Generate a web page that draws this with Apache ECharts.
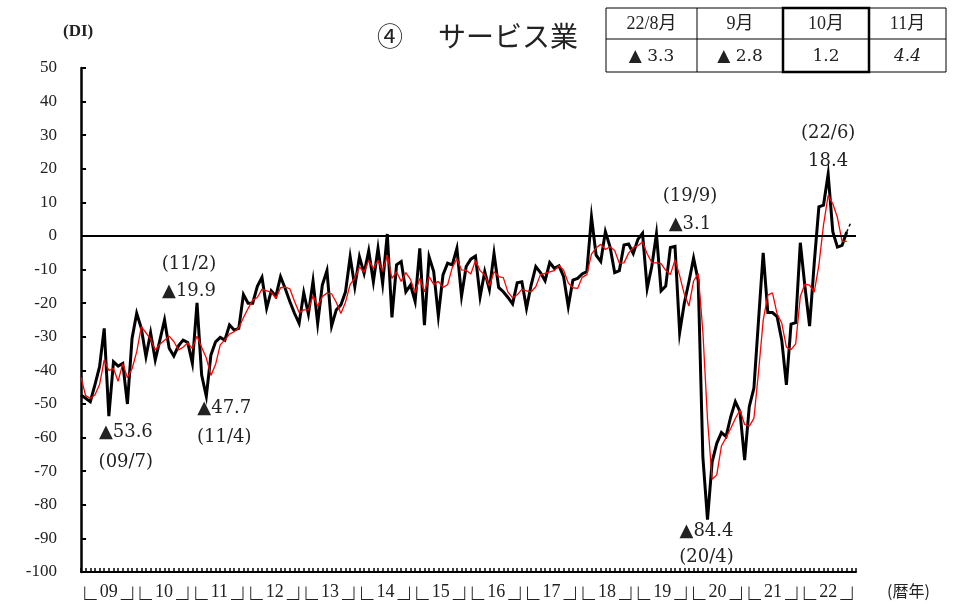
<!DOCTYPE html>
<html>
<head>
<meta charset="utf-8">
<script src="https://cdn.jsdelivr.net/npm/echarts@6/dist/echarts.min.js"></script>
<style>
  html, body { margin: 0; padding: 0; background: #fff; }
  #chart { width: 955px; height: 604px; }
</style>
</head>
<body>
<div id="chart"></div>
<script>
// Calendar years shown on the x axis (two-digit form)
const yearLabels = ['09','10','11','12','13','14','15','16','17','18','19','20','21','22'];

// Service-sector DI, monthly from 2009/1 to 2022/10
const serviceDI = [
  -47.3, -48.3, -49.3, -44.3, -38.9, -27.5, -53.6, -37.4, -38.7, -37.9, -50.0, -30.5,
  -23.0, -27.5, -35.9, -28.8, -36.9, -31.0, -25.0, -33.4, -35.7, -32.7, -31.0, -31.7,
  -37.9, -19.9, -41.4, -47.7, -35.4, -31.5, -30.2, -31.0, -26.5, -28.0, -27.5, -17.4,
  -20.0, -20.0, -15.0, -12.3, -21.5, -16.3, -17.9, -12.1, -15.6, -19.5, -23.0, -26.0,
  -16.9, -23.2, -13.4, -26.0, -14.6, -10.3, -26.8, -22.0, -20.5, -16.6, -6.2, -15.1,
  -6.2, -11.1, -4.4, -13.6, -3.7, -14.1, 0.6, -24.2, -8.6, -7.6, -16.6, -14.6,
  -19.5, -3.7, -26.5, -6.2, -10.6, -23.8, -11.6, -8.1, -8.6, -3.7, -17.9, -9.1,
  -6.9, -6.0, -18.1, -10.6, -15.9, -5.2, -15.3, -16.6, -18.3, -20.2, -13.9, -13.6,
  -21.5, -14.6, -9.1, -10.9, -13.3, -7.9, -9.6, -8.9, -12.1, -21.0, -13.1, -12.6,
  -11.3, -10.6, 5.7, -5.7, -7.6, 1.3, -3.2, -10.9, -10.3, -2.7, -2.4, -5.2,
  -1.0, 0.8, -15.6, -9.0, 0.6, -16.3, -14.9, -3.4, -3.1, -28.8, -20.0, -13.6,
  -6.6, -13.3, -65.7, -84.4, -67.2, -61.7, -58.5, -59.7, -53.8, -49.3, -52.3, -66.7,
  -50.8, -45.3, -25.0, -5.0, -22.8, -22.8, -24.0, -31.0, -44.3, -26.2, -25.8, -2.0,
  -15.1, -26.8, -8.1, 8.7, 9.2, 18.4, 1.3, -3.3, -2.8, 1.2
];

// The two months before the series start (2008/11, 2008/12), used for the moving average
const priorDI = [-32.0, -47.0];

// Outlook for the next month (2022/11)
const forecastDI = 4.4;

// Months picked out with a value note
const noteIndices = [6, 25, 27, 128, 135, 161];

// Months listed in the summary table (last three actuals + outlook)
const tableHeads = ['22/8月', '9月', '10月', '11月'];

// ---- derived series ----
const monthCats = [];
yearLabels.forEach(y => { for (let m = 1; m <= 12; m++) monthCats.push(y + '/' + m); });

// backward 3-month moving average
const fullDI = priorDI.concat(serviceDI);
const avgDI = serviceDI.map((v, i) => {
  const s = fullDI[i] + fullDI[i + 1] + fullDI[i + 2];
  return Math.round(s / 3 * 10) / 10;
});

const last = serviceDI.length - 1;
const forecastLine = serviceDI.map((v, i) => (i === last ? v : null)).concat([forecastDI]);

function fmt(v) {
  return v < 0 ? '▲' + Math.abs(v).toFixed(1) : v.toFixed(1);
}
function tagOf(i) {
  return yearLabels[Math.floor(i / 12)] + '/' + (i % 12 + 1);
}

const SERIF = "'DejaVu Serif', 'Liberation Serif', serif";
const NUMF = "'Liberation Serif', 'DejaVu Serif', serif";
const JP = "'Noto Sans CJK JP', sans-serif";

const chart = echarts.init(document.getElementById('chart'), null, { renderer: 'canvas' });

const option = {
  animation: false,
  backgroundColor: '#fff',
  grid: { left: 81, right: 99, top: 68, bottom: 32, containLabel: false, outerBoundsMode: 'none' },
  xAxis: [
    {
      type: 'category',
      data: monthCats,
      boundaryGap: false,
      axisLine: { onZero: false, lineStyle: { color: '#000', width: 2 } },
      axisTick: { show: true, inside: true, length: 4, interval: 0, lineStyle: { color: '#000', width: 1.5 } },
      axisLabel: { show: true, interval: 0, formatter: () => '' },
      splitLine: { show: false }
    },
    {
      type: 'category',
      data: yearLabels,
      position: 'bottom',
      offset: 0,
      boundaryGap: true,
      axisLine: { show: false, onZero: false },
      axisTick: { show: false },
      splitLine: { show: false },
      axisLabel: {
        interval: 0,
        margin: 1,
        formatter: v => '{b|└}{d|' + v + '}{b|┘}',
        rich: {
          b: { fontFamily: JP, fontSize: 24, color: '#222', padding: [14, 0, 0, 0] },
          d: { fontFamily: NUMF, fontSize: 18, color: '#222', padding: [0, 3, 0, 3] }
        }
      }
    }
  ],
  yAxis: {
    type: 'value',
    min: -100,
    max: 50,
    interval: 10,
    axisLine: { show: true, lineStyle: { color: '#000', width: 2.5 } },
    axisTick: { show: true, inside: true, length: 5, lineStyle: { color: '#000', width: 2 } },
    axisLabel: { fontFamily: NUMF, fontSize: 17, color: '#222', margin: 24 },
    splitLine: { show: false }
  },
  series: [
    {
      name: 'DI',
      type: 'line',
      data: serviceDI,
      symbol: 'none',
      z: 3,
      lineStyle: { color: '#000', width: 3, join: 'miter' },
      markLine: {
        silent: true,
        symbol: 'none',
        label: { show: false },
        lineStyle: { color: '#000', width: 2, type: 'solid' },
        data: [{ yAxis: 0 }]
      }
    },
    {
      name: '3か月移動平均',
      type: 'line',
      data: avgDI,
      symbol: 'none',
      z: 4,
      lineStyle: { color: '#ff0000', width: 1.3 }
    },
    {
      name: '見通し',
      type: 'line',
      data: forecastLine,
      symbol: 'none',
      z: 3,
      connectNulls: false,
      lineStyle: { color: '#000', width: 1.5, type: [3, 3] }
    }
  ]
};

chart.setOption(option);

// ---- notes on selected months, placed from the axis scales ----
const noteLayout = {
  6:   { dx: 17, dy: [16, 46], valueFirst: true },
  25:  { dx: -8, dy: [-39, -12], valueFirst: false },
  27:  { dx: 18, dy: [12, 41], valueFirst: true },
  128: { dx: 15, dy: [-50, -22], valueFirst: false },
  135: { dx: -1, dy: [12, 38], valueFirst: true },
  161: { dx: 0,  dy: [-41, -13], valueFirst: false }
};

const graphics = [];
noteIndices.forEach(i => {
  const p = chart.convertToPixel({ xAxisIndex: 0, yAxisIndex: 0 }, [i, serviceDI[i]]);
  const L = noteLayout[i];
  const lines = L.valueFirst ? [fmt(serviceDI[i]), '(' + tagOf(i) + ')'] : ['(' + tagOf(i) + ')', fmt(serviceDI[i])];
  lines.forEach((t, k) => {
    graphics.push({
      type: 'text',
      x: p[0] + L.dx,
      y: p[1] + L.dy[k],
      z: 10,
      style: { text: t, font: '18px ' + SERIF, fill: '#222', textAlign: 'center', textVerticalAlign: 'middle' }
    });
  });
});

// title and unit
graphics.push({ type: 'text', x: 63, y: 32, style: { text: '(DI)', font: 'bold 17px ' + NUMF, fill: '#222', textVerticalAlign: 'middle' } });
graphics.push({ type: 'text', x: 377, y: 36, style: { text: '④', font: '26px ' + JP, fill: '#222', textVerticalAlign: 'middle' } });
graphics.push({ type: 'text', x: 438, y: 36, style: { text: 'サービス業', font: '28px ' + JP, fill: '#222', textVerticalAlign: 'middle' } });
graphics.push({ type: 'text', x: 887, y: 591, style: { text: '(暦年)', font: '16px ' + JP, fill: '#222', textVerticalAlign: 'middle' } });

// summary table
const colX = [606, 697, 783, 869, 946];
const rowY = [8, 39, 72];
const tableVals = [serviceDI[last - 2], serviceDI[last - 1], serviceDI[last], forecastDI];
graphics.push({ type: 'rect', shape: { x: colX[0], y: rowY[0], width: colX[4] - colX[0], height: rowY[2] - rowY[0] }, style: { fill: '#fff', stroke: '#000', lineWidth: 1 }, z: 5 });
graphics.push({ type: 'line', shape: { x1: colX[0], y1: rowY[1], x2: colX[4], y2: rowY[1] }, style: { stroke: '#000', lineWidth: 1 }, z: 6 });
for (let c = 1; c < 4; c++) {
  graphics.push({ type: 'line', shape: { x1: colX[c], y1: rowY[0], x2: colX[c], y2: rowY[2] }, style: { stroke: '#000', lineWidth: 1 }, z: 6 });
}
graphics.push({ type: 'rect', shape: { x: colX[2], y: rowY[0], width: colX[3] - colX[2], height: rowY[2] - rowY[0] }, style: { fill: 'none', stroke: '#000', lineWidth: 2.5 }, z: 7 });
tableHeads.forEach((h, c) => {
  const cx = (colX[c] + colX[c + 1]) / 2;
  graphics.push({ type: 'text', x: cx, y: (rowY[0] + rowY[1]) / 2 + 1, z: 8,
    style: { text: h, font: '18px ' + NUMF + ", 'Noto Sans CJK JP'", fill: '#222', textAlign: 'center', textVerticalAlign: 'middle' } });
  const v = tableVals[c];
  const txt = v < 0 ? '▲ ' + Math.abs(v).toFixed(1) : v.toFixed(1);
  graphics.push({ type: 'text', x: cx, y: (rowY[1] + rowY[2]) / 2 + 1, z: 8,
    style: { text: txt, font: (c === 3 ? 'italic ' : '') + '17px ' + SERIF, fill: '#222', textAlign: 'center', textVerticalAlign: 'middle' } });
});

chart.setOption({ graphic: graphics });
</script>
</body>
</html>
